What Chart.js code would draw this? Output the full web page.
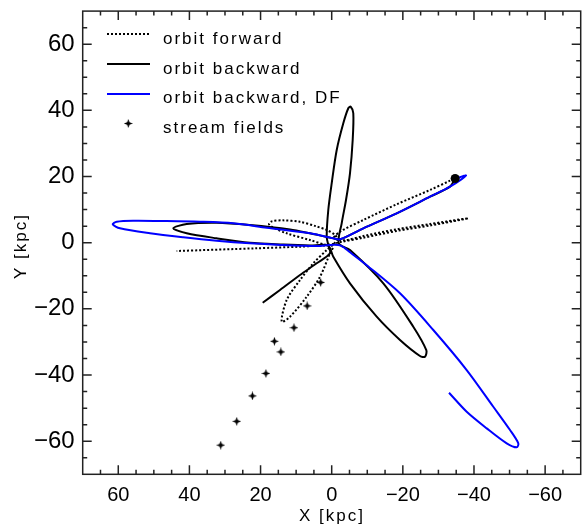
<!DOCTYPE html>
<html>
<head>
<meta charset="utf-8">
<script src="https://cdn.jsdelivr.net/npm/chart.js@4.4.1/dist/chart.umd.min.js"></script>
<style>
  html, body { margin: 0; padding: 0; background: #fff; }
  canvas { display: block; }
</style>
</head>
<body>
<canvas id="orbits" width="582" height="526"></canvas>
<script>
// tick labels (kpc)
const xTicks = [-60, -40, -20, 0, 20, 40, 60];
const yTicks = [-60, -40, -20, 0, 20, 40, 60];

// present position of the satellite
const satX = [-34.7];
const satY = [19.4];

// stream fields
const streamX = [31.2, 26.7, 22.3, 18.5, 16.1, 14.3, 10.6, 6.9, 3.1];
const streamY = [-61.2, -54.0, -46.3, -39.5, -29.8, -33.0, -25.7, -19.1, -12.0];

// orbit forward (dotted)
const fwdX = [-34.3, -33.26, -27.64, -18.27, -8.88, -2.33, -0.6,
  -3.74, -8.88, -18.27, -27.64, -38.4, -27.64, -18.27, -8.88, -2.5,
  1.41, 6.1, 12.65, 16.87, 17.63, 16.87, 13.69, 8.91, 4.5, 1.41, -1.0, -1.6,
  1.41, 5.17, 8.91, 12.65, 14.06, 11.72, 7.03, 3.29, 0.48, -0.37,
  3.0, 8.91, 21.09, 43.58];
const fwdY = [19.3, 18.74, 15.93, 11.61, 6.86, 3.33, 1.4,
  0.75, 2.03, 4.05, 5.65, 7.38, 5.2, 3.55, 1.5, 0.2,
  -0.6, 0.82, 2.84, 4.84, 5.65, 6.45, 6.75, 6.3, 5.0, 3.84, 2.3, 0.9,
  -2.21, -6.23, -11.28, -17.32, -23.88, -22.37, -16.32, -10.28, -3.2, -1.0,
  -0.9, -1.21, -1.69, -2.51];

// orbit backward (solid black)
const bwdX = [-34.66, -33.26, -27.64, -18.27, -8.88, -2.33,
  -0.45, 6.1, 11.7, 22.97, 32.33, 40.76, 44.53, 40.76, 32.33, 22.97, 13.61, 6.1, 1.04,
  -0.45, -5.14, -12.65, -19.2, -24.82, -26.23, -26.6, -22.94, -14.51, -5.14, -2.0,
  -2.81, -4.02, -5.14, -5.9, -6.07, -5.34, -4.67, -3.26, -1.41, 0, 0.96, 1.41, 0.96,
  0.48, 4.22, 8.91, 14.53, 19.4];
const bwdY = [19.26, 16.93, 13.91, 8.89, 4.35, 1.03,
  1.33, 2.84, 4.0, 5.35, 6.05, 5.65, 4.35, 2.84, 1.33, 0.0, -0.54, -0.85, -0.9,
  -4.23, -12.27, -22.37, -29.41, -34.25, -34.46, -32.5, -25.39, -12.27, -2.21, -0.2,
  5.86, 12.91, 20.98, 31.05, 39.12, 41.11, 40.63, 36.09, 28.02, 17.96, 9.89, 1.81, -0.7,
  -3.2, -6.23, -9.76, -14.3, -18.14];

// orbit backward with dynamical friction (blue)
const dfX = [-34.66, -37.76, -33.26, -27.64, -18.27, -8.88, -2.33,
  -0.45, 6.1, 18.27, 27.66, 37.03, 46.39, 55.78, 60.44, 61.57, 59.52, 51.08, 41.72,
  32.33, 22.97, 13.61, 8.91, 3.29, -0.6, -2.6,
  -5.14, -9.84, -19.2, -28.56, -37.95, -45.43, -50.13, -52.46, -52.01, -49.2,
  -43.58, -37.95, -32.98];
const dfY = [19.26, 20.31, 16.93, 13.91, 8.89, 4.35, 1.03,
  1.33, 2.84, 4.53, 5.86, 6.35, 6.56, 6.65, 6.35, 5.56, 4.35, 2.84, 1.63,
  0.6, -0.18, -0.7, -0.91, -1.0, -0.6, -0.9,
  -2.9, -6.8, -15.3, -26.39, -38.48, -49.58, -56.62, -60.64, -61.85, -60.64,
  -56.11, -51.09, -45.34];

const FONT = '"Liberation Sans", Arial, Helvetica, sans-serif';

function pts(xs, ys) {
  return xs.map((x, i) => ({x: x, y: ys[i]}));
}
function minus(v) {
  return String(v).replace('-', '\u2212');
}
function noPad(s) {
  s.paddingTop = 0; s.paddingBottom = 0; s.paddingLeft = 0; s.paddingRight = 0;
}

// four pointed star for the stream fields
const star = document.createElement('canvas');
star.width = 9; star.height = 9;
const sc = star.getContext('2d');
sc.fillStyle = '#000';
sc.beginPath();
sc.moveTo(4.5, 0); sc.lineTo(5.7, 3.3); sc.lineTo(9, 4.5); sc.lineTo(5.7, 5.7);
sc.lineTo(4.5, 9); sc.lineTo(3.3, 5.7); sc.lineTo(0, 4.5); sc.lineTo(3.3, 3.3);
sc.closePath(); sc.fill();

// frame with inward ticks, legend box, axis titles
const decor = {
  id: 'decor',
  afterDraw(chart) {
    const {ctx, chartArea: a} = chart;
    const sx = chart.scales.x, sy = chart.scales.y;
    ctx.save();
    ctx.strokeStyle = '#222';
    ctx.lineWidth = 1.5;
    ctx.strokeRect(a.left, a.top, a.right - a.left, a.bottom - a.top);
    ctx.beginPath();
    for (let v = -65; v <= 65; v += 5) {
      const len = v % 20 === 0 ? 9 : 4.5;
      const px = sx.getPixelForValue(v);
      ctx.moveTo(px, a.bottom); ctx.lineTo(px, a.bottom - len);
      ctx.moveTo(px, a.top); ctx.lineTo(px, a.top + len);
      const py = sy.getPixelForValue(v);
      ctx.moveTo(a.left, py); ctx.lineTo(a.left + len, py);
      ctx.moveTo(a.right, py); ctx.lineTo(a.right - len, py);
    }
    ctx.stroke();

    // legend
    ctx.lineWidth = 2;
    ctx.strokeStyle = '#000';
    ctx.setLineDash([2, 2]);
    ctx.beginPath(); ctx.moveTo(107, 34); ctx.lineTo(150, 34); ctx.stroke();
    ctx.setLineDash([]);
    ctx.beginPath(); ctx.moveTo(107, 64); ctx.lineTo(150, 64); ctx.stroke();
    ctx.strokeStyle = '#0000ff';
    ctx.beginPath(); ctx.moveTo(107, 94); ctx.lineTo(150, 94); ctx.stroke();
    ctx.drawImage(star, 128.3 - 4.5, 123.5 - 4.5);

    ctx.fillStyle = '#000';
    ctx.font = '17px ' + FONT;
    ctx.letterSpacing = '2px';
    ctx.textBaseline = 'alphabetic';
    ctx.textAlign = 'left';
    ctx.fillText('orbit forward', 163, 44);
    ctx.fillText('orbit backward', 163, 73.5);
    ctx.fillText('orbit backward, DF', 163, 103);
    ctx.fillText('stream fields', 163, 132.5);

    // axis titles
    ctx.textAlign = 'center';
    ctx.fillText('X [kpc]', 332, 521);
    ctx.translate(26, 246);
    ctx.rotate(-Math.PI / 2);
    ctx.fillText('Y [kpc]', 0, 0);
    ctx.restore();
  }
};

new Chart(document.getElementById('orbits'), {
  type: 'scatter',
  data: {
    datasets: [
      {label: 'satellite', data: pts(satX, satY), pointRadius: 4.5,
       pointBackgroundColor: '#000', pointBorderWidth: 0, showLine: false, order: 0},
      {label: 'stream fields', data: pts(streamX, streamY), pointStyle: star,
       pointRadius: 4.5, showLine: false, order: 1},
      {label: 'orbit backward, DF', data: pts(dfX, dfY), showLine: true,
       borderColor: '#0000ff', borderWidth: 2, pointRadius: 0, tension: 0.3, order: 2},
      {label: 'orbit forward', data: pts(fwdX, fwdY), showLine: true,
       borderColor: '#000', borderWidth: 2, borderDash: [2, 2], pointRadius: 0, tension: 0.3, order: 3},
      {label: 'orbit backward', data: pts(bwdX, bwdY), showLine: true,
       borderColor: '#000', borderWidth: 2, pointRadius: 0, tension: 0.3, order: 4}
    ]
  },
  options: {
    responsive: false,
    animation: false,
    devicePixelRatio: 1,
    layout: {autoPadding: false, padding: {left: 0, right: 1.3, top: 11.1, bottom: 0}},
    plugins: {legend: {display: false}, tooltip: {enabled: false}},
    events: [],
    scales: {
      x: {
        type: 'linear', min: -70, max: 70, reverse: true,
        afterBuildTicks: s => { s.ticks = xTicks.map(v => ({value: v})); },
        afterFit: s => { s.height = 51.7; noPad(s); },
        grid: {display: false, drawTicks: false},
        border: {display: false},
        ticks: {color: '#000', padding: 9, maxRotation: 0, autoSkip: false,
                font: {size: 20, family: FONT}, callback: v => minus(v)}
      },
      y: {
        type: 'linear', min: -70, max: 70,
        afterBuildTicks: s => { s.ticks = yTicks.map(v => ({value: v})); },
        afterFit: s => { s.width = 82.7; noPad(s); },
        grid: {display: false, drawTicks: false},
        border: {display: false},
        ticks: {color: '#000', padding: 8, autoSkip: false,
                font: {size: 24, family: FONT}, callback: v => minus(v)}
      }
    }
  },
  plugins: [decor]
});
</script>
</body>
</html>
